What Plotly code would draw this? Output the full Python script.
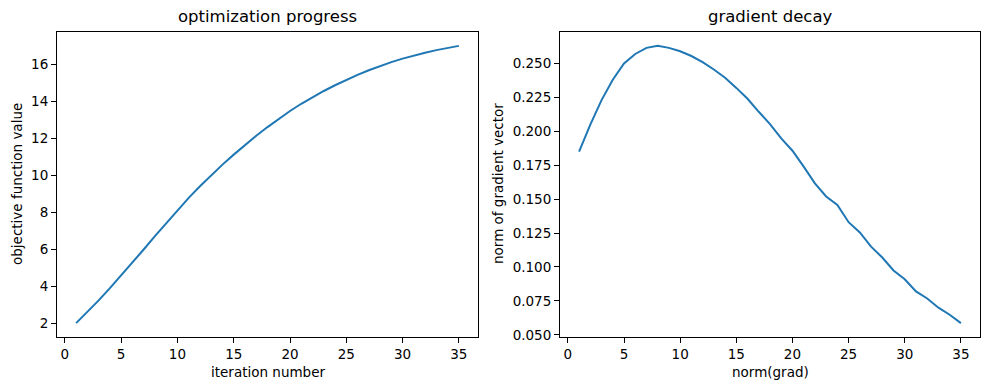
import plotly.graph_objects as go

iterations = list(range(1, 36))
objective_values = [2.00, 2.60, 3.23, 3.89, 4.57, 5.27, 5.98, 6.70, 7.41, 8.11,
                    8.77, 9.40, 10.00, 10.57, 11.11, 11.63, 12.13, 12.60, 13.05, 13.47,
                    13.86, 14.22, 14.55, 14.86, 15.15, 15.42, 15.67, 15.90, 16.11, 16.30,
                    16.47, 16.62, 16.76, 16.88, 16.99]
grad_norms = [0.185, 0.205, 0.223, 0.238, 0.250, 0.257, 0.2615, 0.263, 0.2615, 0.259,
              0.2555, 0.251, 0.2456, 0.2395, 0.232, 0.224, 0.2144, 0.2053, 0.1948, 0.1857,
              0.174, 0.1617, 0.152, 0.1457, 0.133, 0.1255, 0.115, 0.107, 0.0974, 0.091,
              0.082, 0.0768, 0.070, 0.0648, 0.0586]

W, H = 990, 390
blue = "#1f77b4"
font = "DejaVu Sans"

fig = go.Figure()
fig.add_trace(go.Scatter(x=iterations, y=objective_values, mode="lines",
                         line=dict(color=blue, width=2), xaxis="x", yaxis="y",
                         showlegend=False))
fig.add_trace(go.Scatter(x=iterations, y=grad_norms, mode="lines",
                         line=dict(color=blue, width=2), xaxis="x2", yaxis="y2",
                         showlegend=False))

def pdx(px):
    return px / W

def pdy(py):
    return 1 - py / H

ax_common = dict(showline=True, linecolor="black", linewidth=1, mirror=True,
                 ticks="outside", ticklen=5, tickwidth=1, tickcolor="black",
                 showgrid=False, zeroline=False, automargin=False,
                 tickfont=dict(family=font, size=13.5, color="black"))

y_dom = [pdy(337), pdy(32)]
fig.update_layout(
    template="none",
    width=W, height=H, margin=dict(l=0, r=0, t=0, b=0, pad=0),
    paper_bgcolor="white", plot_bgcolor="white",
    xaxis=dict(domain=[pdx(57), pdx(478)], range=[-0.7, 36.7],
               tickvals=[0, 5, 10, 15, 20, 25, 30, 35], anchor="y", **ax_common),
    yaxis=dict(domain=y_dom, range=[1.25, 17.74],
               tickvals=[2, 4, 6, 8, 10, 12, 14, 16], anchor="x", **ax_common),
    xaxis2=dict(domain=[pdx(560), pdx(980)], range=[-0.7, 36.7],
                tickvals=[0, 5, 10, 15, 20, 25, 30, 35], anchor="y2", **ax_common),
    yaxis2=dict(domain=y_dom, range=[0.0484, 0.2732],
                tickvals=[0.050, 0.075, 0.100, 0.125, 0.150, 0.175, 0.200, 0.225, 0.250],
                ticktext=["0.050", "0.075", "0.100", "0.125", "0.150", "0.175", "0.200", "0.225", "0.250"],
                anchor="x2", **ax_common),
)

def txt(text, x, y, size, angle=0):
    fig.add_annotation(text=text, x=pdx(x), y=pdy(y), xref="paper", yref="paper",
                       showarrow=False, textangle=angle, xanchor="center", yanchor="middle",
                       font=dict(family=font, size=size, color="black"))

txt("optimization progress", (57 + 478) / 2, 17, 16.5)
txt("gradient decay", (560 + 980) / 2, 17, 16.5)
txt("iteration number", (57 + 478) / 2, 372, 13.5)
txt("norm(grad)", (560 + 980) / 2, 372, 13.5)
txt("objective function value", 17, 184, 13.5, -90)
txt("norm of gradient vector", 498, 184, 13.5, -90)

fig.write_html("out.html", config={"displayModeBar": False},
               post_script="document.body.style.margin='0';document.body.style.overflow='hidden';")
